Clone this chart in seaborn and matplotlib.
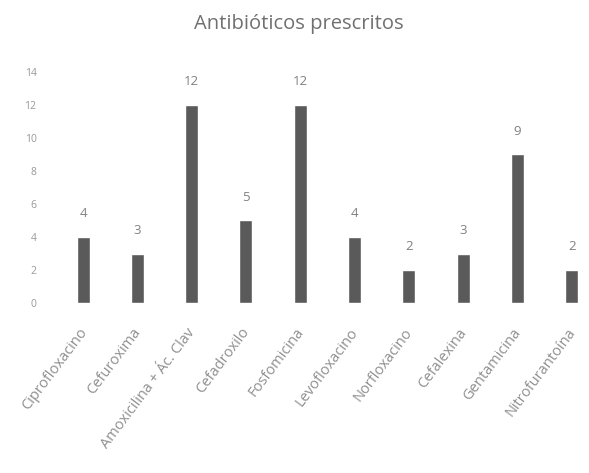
import matplotlib
matplotlib.use("Agg")
import matplotlib.pyplot as plt
import matplotlib.transforms as mtransforms
import seaborn as sns
import pandas as pd

antibioticos = [
    "Ciprofloxacino",
    "Cefuroxima",
    "Amoxicilina + Ác. Clav",
    "Cefadroxilo",
    "Fosfomicina",
    "Levofloxacino",
    "Norfloxacino",
    "Cefalexina",
    "Gentamicina",
    "Nitrofurantoína",
]
prescripciones = [4, 3, 12, 5, 12, 4, 2, 3, 9, 2]
y_ticks = [0, 2, 4, 6, 8, 10, 12, 14]

sns.set_theme(style="white")
plt.rcParams["font.family"] = ["Open Sans", "DejaVu Sans"]

df = pd.DataFrame({"antibiotico": antibioticos, "n": prescripciones})

fig = plt.figure(figsize=(5.89, 4.73), dpi=100)
ax = fig.add_axes([0.095, 0.3594, 0.905, 0.4884])

sns.barplot(data=df, x="antibiotico", y="n", color="#5a5a5a",
            width=0.24, saturation=1, ax=ax)

for i, v in enumerate(prescripciones):
    ax.annotate(str(v), (i, v), xytext=(0, 12), textcoords="offset points",
                ha="center", va="bottom", fontsize=9.5, color="#808080")

ax.set_xlim(-0.5, 9.32)
ax.set_ylim(0, 14)
ax.set_yticks(y_ticks)
ax.set_yticklabels([str(t) for t in y_ticks], fontsize=7.5, color="#999999")
ax.set_xticks(range(len(antibioticos)))
ax.set_xticklabels(antibioticos, rotation=53, ha="right",
                   rotation_mode="anchor", fontsize=10.5, color="#8f8f8f")
ax.tick_params(axis="y", length=0, pad=14)
ax.tick_params(axis="x", length=0, pad=16)
shift = mtransforms.ScaledTranslation(-5 / 100, 0, fig.dpi_scale_trans)
for lbl in ax.get_xticklabels():
    lbl.set_transform(lbl.get_transform() + shift)
ax.set_xlabel("")
ax.set_ylabel("")
for s in ax.spines.values():
    s.set_visible(False)

fig.text(0.508, 0.95, "Antibióticos prescritos", ha="center", va="center",
         fontsize=14.5, color="#707070")

fig.savefig("out.png", dpi=100, facecolor="white")
